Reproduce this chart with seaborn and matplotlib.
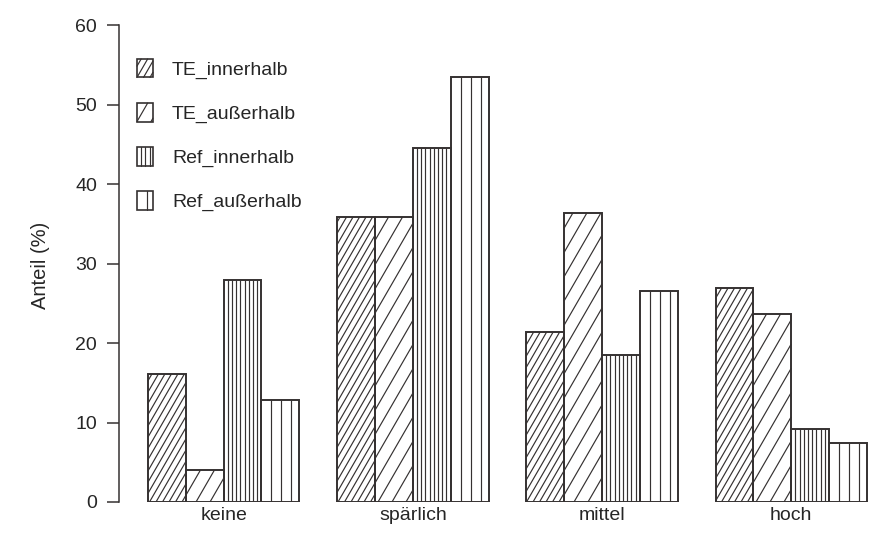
import numpy as np
import pandas as pd
import matplotlib
matplotlib.use("Agg")
import matplotlib.pyplot as plt
import seaborn as sns
from matplotlib.collections import LineCollection
from matplotlib.legend_handler import HandlerBase
from matplotlib.patches import Rectangle, Patch
from matplotlib.lines import Line2D

# ---- data -------------------------------------------------------------
klassen = ["keine", "spärlich", "mittel", "hoch"]
gruppen = ["TE_innerhalb", "TE_außerhalb", "Ref_innerhalb", "Ref_außerhalb"]
te_innerhalb = [16.1, 35.9, 21.4, 26.9]
te_ausserhalb = [4.0, 35.9, 36.4, 23.7]
ref_innerhalb = [27.9, 44.5, 18.5, 9.2]
ref_ausserhalb = [12.8, 53.5, 26.5, 7.4]
y_ticks = [0, 10, 20, 30, 40, 50, 60]

werte = [te_innerhalb, te_ausserhalb, ref_innerhalb, ref_ausserhalb]
df = pd.DataFrame(
    [(k, g, v[i]) for g, v in zip(gruppen, werte) for i, k in enumerate(klassen)],
    columns=["Klasse", "Gruppe", "Anteil"],
)

# ---- style ------------------------------------------------------------
sns.set_theme(style="white")
plt.rcParams["font.family"] = ["Liberation Sans", "DejaVu Sans"]
INK = "#353131"
TXT = "#262626"
FS = 14

# hatch: (angle in degrees, spacing between lines in pixels)
schraffur = {
    "TE_innerhalb": (60, 6.5),
    "TE_außerhalb": (60, 14.0),
    "Ref_innerhalb": (90, 4.2),
    "Ref_außerhalb": (90, 10.0),
}


def hatch_segments(x0, y0, x1, y1, angle, spacing):
    """Line segments of a hatch at `angle` filling the box, clipped to it."""
    segs = []
    if angle == 90:
        for x in np.arange(x0 + spacing, x1 - 0.5, spacing):
            segs.append([(x, y0), (x, y1)])
        return segs
    th = np.radians(angle)
    c, s = np.cos(th), np.sin(th)
    h = y1 - y0
    start = x0 - h / np.tan(th)
    for cx in np.arange(start - (start % spacing), x1, spacing):
        t_in = max(0.0, (x0 - cx) / c)
        t_out = min(h / s, (x1 - cx) / c)
        if t_out > t_in:
            segs.append([(cx + t_in * c, y0 + t_in * s),
                         (cx + t_out * c, y0 + t_out * s)])
    return segs


# ---- figure -----------------------------------------------------------
W, H, DPI = 869, 547, 100
fig = plt.figure(figsize=(W / DPI, H / DPI), dpi=DPI)
fig.patch.set_facecolor("white")
ax_left, ax_bottom, ax_top = 119, 502, 6
ax = fig.add_axes([ax_left / W, (H - ax_bottom) / H,
                   (W - ax_left) / W, (ax_bottom - ax_top) / H])
ax.set_facecolor("white")

sns.barplot(
    data=df, x="Klasse", y="Anteil", hue="Gruppe",
    order=klassen, hue_order=gruppen,
    palette=["white"] * 4, saturation=1, width=0.8,
    edgecolor=INK, linewidth=1.4, errorbar=None, legend=False, ax=ax,
)

ax.set_xlim(-0.553, 3.411)
ax.set_ylim(0, 62.4)

# hatch lines for each bar, computed in pixel space
inv = ax.transData.inverted()
for gruppe, cont in zip(gruppen, ax.containers):
    ang, sp = schraffur[gruppe]
    for bar in cont.patches:
        (px0, py0), (px1, py1) = ax.transData.transform(
            [(bar.get_x(), bar.get_y()),
             (bar.get_x() + bar.get_width(), bar.get_y() + bar.get_height())])
        segs = hatch_segments(px0, py0, px1, py1, ang, sp)
        if segs:
            segs = [inv.transform(np.array(sg)) for sg in segs]
            ax.add_collection(LineCollection(segs, colors=INK, linewidths=0.85,
                                             zorder=bar.get_zorder() + 0.1))
        bar.set_zorder(bar.get_zorder() + 0.2)
        bar.set_facecolor("none")

# axes decoration
for side in ("top", "right", "bottom"):
    ax.spines[side].set_visible(False)
ax.spines["left"].set_bounds(0, 60)
ax.spines["left"].set_color(INK)
ax.spines["left"].set_linewidth(1.1)
ax.set_yticks(y_ticks)
ax.tick_params(axis="y", left=True, length=8.6, width=1.1, color=INK,
               pad=7.2, labelsize=FS, labelcolor=TXT)
ax.tick_params(axis="x", bottom=False, length=0, pad=3.8,
               labelsize=FS, labelcolor=TXT)
ax.set_xlabel("")
ax.set_ylabel("")
ax.grid(False)
fig.text(40 / W, (H - 265) / H, "Anteil (%)", rotation=90, ha="center",
         va="center", fontsize=FS + 0.5, color=TXT)


# legend with the same hatch boxes
class HatchHandler(HandlerBase):
    def __init__(self, angle, spacing_px):
        super().__init__()
        self.angle = angle
        self.spacing = spacing_px * 72.0 / DPI

    def create_artists(self, legend, orig_handle, xdescent, ydescent,
                       width, height, fontsize, trans):
        x0, y0 = -xdescent, -ydescent
        rect = Rectangle((x0, y0), width, height, facecolor="white",
                         edgecolor=INK, linewidth=1.2, transform=trans)
        arts = [rect]
        for sg in hatch_segments(x0, y0, x0 + width, y0 + height,
                                 self.angle, self.spacing):
            (a, b), (c, d) = sg
            arts.append(Line2D([a, c], [b, d], color=INK, linewidth=0.85,
                               transform=trans))
        return arts


handles = [Patch(label=g) for g in gruppen]
handler_map = {h: HatchHandler(*schraffur[g]) for h, g in zip(handles, gruppen)}
leg = ax.legend(
    handles=handles, labels=gruppen, handler_map=handler_map,
    loc="upper left", bbox_to_anchor=(137 / W, (H - 59) / H),
    bbox_transform=fig.transFigure, frameon=False, fontsize=FS,
    handlelength=0.82, handleheight=1.08, handletextpad=0.98,
    labelspacing=1.24, borderpad=0, borderaxespad=0,
)
for t in leg.get_texts():
    t.set_color(TXT)

fig.savefig("out.png", dpi=DPI, facecolor="white")
